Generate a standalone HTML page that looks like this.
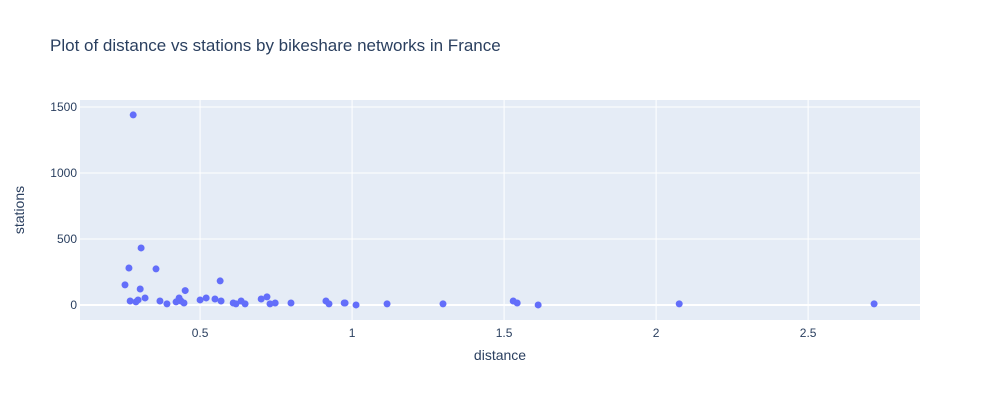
<!DOCTYPE html>
<html><head><meta charset="utf-8"><style>
body{margin:0;background:#fff;font-family:"Liberation Sans",sans-serif;}
svg text{font-family:"Liberation Sans",sans-serif;fill:#2a3f5f;}
</style></head><body>
<svg width="1000" height="400">
<rect width="1000" height="400" fill="#fff"/>
<text x="50" y="51" font-size="17">Plot of distance vs stations by bikeshare networks in France</text>
<rect x="80" y="100" width="840" height="220" fill="#e5ecf6"/>
<g id="grid"></g><g id="ticks"></g><g id="pts"></g>
<text x="500" y="360" font-size="14" text-anchor="middle">distance</text>
<text x="24" y="210" font-size="14" text-anchor="middle" transform="rotate(-90 24 210)">stations</text>
</svg>
<script>
const distances=[0.306,0.266,0.355,0.253,0.303,0.566,0.451,0.270,0.289,0.296,0.319,0.368,0.391,0.421,0.431,0.437,0.447,0.5,0.520,0.549,0.569,0.609,0.618,0.635,0.648,0.701,0.720,0.730,0.747,0.799,0.914,0.924,0.974,0.977,1.013,0.280,1.115,1.299,1.530,1.543,1.612,2.076,2.717];
const stations=[432,280,273,152,121,182,109,30,23,38,53,30,8,23,53,30,15,38,53,45,30,15,8,30,8,45,61,8,15,15,30,8,15,15,0,1440,8,8,30,15,0,8,8];
const xTicks=[0.5,1,1.5,2,2.5];
const xTickLabels=["0.5","1","1.5","2","2.5"];
const yTicks=[0,500,1000,1500];
const yTickLabels=["0","500","1000","1500"];
const X0=0.105,X1=2.868,Y0=-114,Y1=1553;
const xs=v=>80+(v-X0)/(X1-X0)*840;
const ys=v=>320-(v-Y0)/(Y1-Y0)*220;
const NS="http://www.w3.org/2000/svg";
const grid=document.getElementById('grid'),tk=document.getElementById('ticks'),pts=document.getElementById('pts');
function mk(tag,attrs,parent){const e=document.createElementNS(NS,tag);for(const k in attrs)e.setAttribute(k,attrs[k]);parent.appendChild(e);return e;}
xTicks.forEach((v,i)=>{
const l=mk('line',{x1:xs(v),x2:xs(v),y1:100,y2:320,stroke:'#fff','stroke-width':1},grid);


const t=mk('text',{x:xs(v),y:337,'font-size':12,'text-anchor':'middle'},tk);t.textContent=xTickLabels[i];


});
yTicks.forEach((v,i)=>{
const l=mk('line',{x1:80,x2:920,y1:ys(v),y2:ys(v),stroke:'#fff','stroke-width':v===0?2:1},grid);


const t=mk('text',{x:77,y:ys(v)+4,'font-size':12,'text-anchor':'end'},tk);t.textContent=yTickLabels[i];


});
distances.forEach((d,i)=>{
const c=mk('circle',{cx:xs(d),cy:ys(stations[i]),r:3.5,fill:'#636efa'},pts);


});
</script>
</body></html>
